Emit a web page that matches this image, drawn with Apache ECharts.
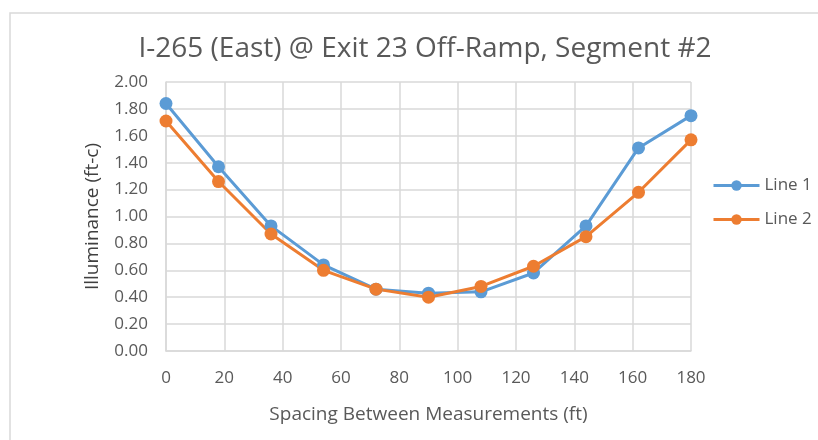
<!DOCTYPE html>
<html>
<head>
<meta charset="utf-8">
<script src="https://cdn.jsdelivr.net/npm/echarts@6/dist/echarts.min.js"></script>
<style>
  html, body { margin: 0; padding: 0; background: #fff; }
  #chart { width: 818px; height: 440px; }
</style>
</head>
<body>
<div id="chart"></div>
<script>
// spacing along the segment (ft)
const spacing = [0, 18, 36, 54, 72, 90, 108, 126, 144, 162, 180];
const line1 = [1.84, 1.37, 0.93, 0.64, 0.46, 0.43, 0.44, 0.58, 0.93, 1.51, 1.75];
const line2 = [1.71, 1.26, 0.87, 0.60, 0.46, 0.40, 0.48, 0.63, 0.85, 1.18, 1.57];

const textColor = '#595959';
const gridColor = '#d9d9d9';
const font = 'Open Sans';

const chart = echarts.init(document.getElementById('chart'));

function pairs(vals) {
  return spacing.map((x, i) => [x, vals[i]]);
}

const option = {
  animation: false,
  backgroundColor: '#fff',
  graphic: [{
    type: 'rect',
    shape: { x: 10, y: 13, width: 820, height: 440 },
    style: { fill: 'none', stroke: gridColor, lineWidth: 1.5 }
  }],
  title: {
    text: 'I-265 (East) @ Exit 23 Off-Ramp, Segment #2',
    left: 420,
    textAlign: 'center',
    top: 30,
    textStyle: { color: textColor, fontFamily: font, fontSize: 28, fontWeight: 'normal' }
  },
  legend: {
    orient: 'vertical',
    left: 707,
    top: 172,
    itemGap: 17,
    itemWidth: 46,
    itemHeight: 13,
    lineStyle: { width: 3 },
    textStyle: { color: textColor, fontFamily: font, fontSize: 17 },
    data: ['Line 1', 'Line 2']
  },
  grid: { left: 166, right: 127, top: 82, bottom: 89 },
  xAxis: {
    type: 'value',
    min: 0,
    max: 180,
    interval: 20,
    name: 'Spacing Between Measurements (ft)',
    nameLocation: 'middle',
    nameGap: 54,
    nameTextStyle: { color: textColor, fontFamily: font, fontSize: 19 },
    axisLine: { lineStyle: { color: gridColor, width: 1.5 } },
    axisTick: { show: false },
    axisLabel: { color: textColor, fontFamily: font, fontSize: 17, margin: 19 },
    splitLine: { lineStyle: { color: gridColor, width: 1.5 } }
  },
  yAxis: {
    type: 'value',
    min: 0,
    max: 2,
    interval: 0.2,
    name: 'Illuminance (ft-c)',
    nameLocation: 'middle',
    nameGap: 64,
    nameTextStyle: { color: '#404040', fontFamily: font, fontSize: 19 },
    axisLine: { show: true, lineStyle: { color: gridColor, width: 1.5 } },
    axisTick: { show: false },
    axisLabel: {
      color: textColor, fontFamily: font, fontSize: 17, margin: 18,
      formatter: v => v.toFixed(2)
    },
    splitLine: { lineStyle: { color: gridColor, width: 1.5 } }
  },
  series: [
    {
      name: 'Line 1',
      type: 'line',
      data: pairs(line1),
      symbol: 'circle',
      symbolSize: 13,
      lineStyle: { width: 3, color: '#5b9bd5' },
      itemStyle: { color: '#5b9bd5' }
    },
    {
      name: 'Line 2',
      type: 'line',
      data: pairs(line2),
      symbol: 'circle',
      symbolSize: 13,
      lineStyle: { width: 3, color: '#ed7d31' },
      itemStyle: { color: '#ed7d31' }
    }
  ]
};

chart.setOption(option);
</script>
</body>
</html>
